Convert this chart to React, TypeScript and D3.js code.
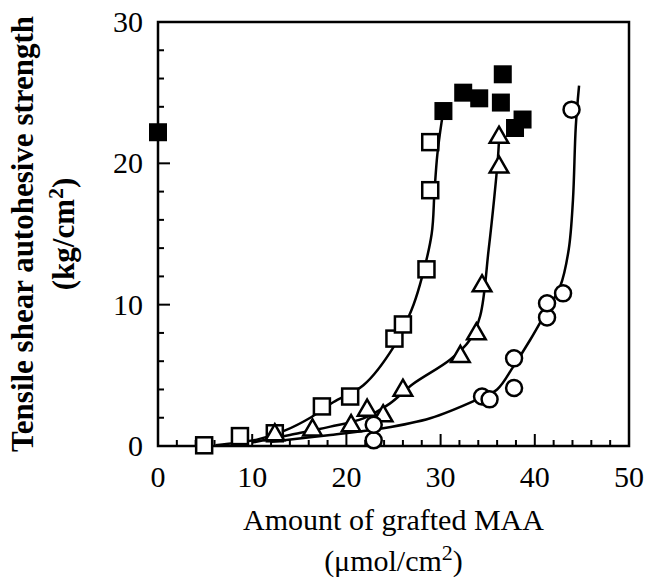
import { useRef, useEffect } from 'react';
import * as d3 from 'd3';

// measured points (x = grafted MAA, y = strength)
const filledSquares: [number, number][] = [
  [0, 22.2], [30.3, 23.7], [32.4, 25.0], [34.1, 24.6], [36.6, 26.3],
  [36.4, 24.3], [37.9, 22.5], [38.7, 23.1],
];
const openSquares: [number, number][] = [
  [4.9, 0.05], [8.7, 0.7], [12.4, 0.9], [17.4, 2.8], [20.4, 3.5],
  [25.1, 7.6], [26.0, 8.6], [28.5, 12.5], [28.9, 18.1], [28.9, 21.5],
];
const triangles: [number, number][] = [
  [12.4, 0.85], [16.4, 1.2], [20.5, 1.5], [22.2, 2.6], [23.9, 2.2],
  [26.0, 4.0], [32.1, 6.4], [33.8, 8.0], [34.4, 11.4], [36.2, 19.8], [36.2, 21.9],
];
const circles: [number, number][] = [
  [22.9, 0.4], [22.9, 1.5], [34.4, 3.5], [35.2, 3.3], [37.8, 4.1],
  [37.8, 6.2], [41.3, 9.1], [41.3, 10.1], [43.0, 10.8], [43.9, 23.8],
];

// fitted curves
const squareFit: [number, number][] = [
  [6.1, 0.05], [10.5, 0.45], [13.5, 1.1], [16.3, 2.05], [18.6, 3.1],
  [21.8, 4.3], [25.0, 7.0], [26.9, 9.6], [27.8, 11.4], [29.05, 15.0],
  [29.35, 18.0], [29.65, 20.6], [30.1, 22.9], [30.3, 23.7],
];
const triangleFit: [number, number][] = [
  [10.0, 0.25], [14.0, 0.78], [18.3, 1.37], [21.8, 1.96], [24.6, 3.0],
  [27.1, 4.4], [31.0, 6.1], [33.1, 7.5], [34.2, 9.2], [35.1, 13.9],
  [35.7, 17.6], [36.1, 20.5], [36.25, 22.4],
];
const circleFit: [number, number][] = [
  [12.0, 0.3], [18.3, 0.78], [23.9, 1.25], [28.9, 1.96], [33.8, 3.26],
  [36.0, 4.0], [37.7, 5.6], [39.5, 7.5], [41.3, 9.6], [42.7, 11.3],
  [43.6, 13.9], [44.05, 17.4], [44.35, 22.6], [44.7, 25.5],
];

const xTicks = [0, 10, 20, 30, 40, 50];
const yTicks = [0, 10, 20, 30];

const W = 647;
const H = 579;
const PLOT = { left: 158, right: 629, top: 22, bottom: 446 };
const FONT = 'Liberation Serif, Times New Roman, serif';

export default function App() {
  const svgRef = useRef<SVGSVGElement>(null);

  useEffect(() => {
    if (!svgRef.current) return;
    const svg = d3.select(svgRef.current);
    svg.selectAll('*').remove();

    const x = d3.scaleLinear().domain([0, 50]).range([PLOT.left, PLOT.right]);
    const y = d3.scaleLinear().domain([0, 30]).range([PLOT.bottom, PLOT.top]);

    const g = svg.append('g');

    // minor + major ticks (inward)
    for (let v = 2; v < 50; v += 2) {
      const major = v % 10 === 0;
      g.append('line')
        .attr('x1', x(v)).attr('x2', x(v))
        .attr('y1', PLOT.bottom).attr('y2', PLOT.bottom - (major ? 12 : 6))
        .attr('stroke', '#000').attr('stroke-width', 2);
    }
    for (let v = 2; v < 30; v += 2) {
      const major = v % 10 === 0;
      g.append('line')
        .attr('x1', PLOT.left).attr('x2', PLOT.left + (major ? 12 : 6))
        .attr('y1', y(v)).attr('y2', y(v))
        .attr('stroke', '#000').attr('stroke-width', 2);
    }

    g.append('rect')
      .attr('x', PLOT.left).attr('y', PLOT.top)
      .attr('width', PLOT.right - PLOT.left).attr('height', PLOT.bottom - PLOT.top)
      .attr('fill', 'none').attr('stroke', '#000').attr('stroke-width', 2.5);

    // tick labels
    g.selectAll('text.xt').data(xTicks).enter().append('text')
      .attr('x', (d) => x(d)).attr('y', 487)
      .attr('text-anchor', 'middle')
      .attr('font-family', FONT).attr('font-size', 30)
      .text((d) => d);
    g.selectAll('text.yt').data(yTicks).enter().append('text')
      .attr('x', 143).attr('y', (d) => y(d) + 10)
      .attr('text-anchor', 'end')
      .attr('font-family', FONT).attr('font-size', 30)
      .text((d) => d);

    // axis titles
    g.append('text')
      .attr('x', (PLOT.left + PLOT.right) / 2).attr('y', 530)
      .attr('text-anchor', 'middle')
      .attr('font-family', FONT).attr('font-size', 30)
      .text('Amount of grafted MAA');
    const xt2 = g.append('text')
      .attr('x', (PLOT.left + PLOT.right) / 2).attr('y', 571)
      .attr('text-anchor', 'middle')
      .attr('font-family', FONT).attr('font-size', 30);
    xt2.append('tspan').text('(\u03bcmol/cm');
    xt2.append('tspan').attr('dy', -11).attr('font-size', 22).text('2');
    xt2.append('tspan').attr('dy', 11).text(')');

    const cy = (PLOT.top + PLOT.bottom) / 2;
    g.append('text')
      .attr('transform', `translate(33,${cy}) rotate(-90)`)
      .attr('text-anchor', 'middle')
      .attr('font-family', FONT).attr('font-size', 31).attr('font-weight', 'bold')
      .text('Tensile shear autohesive strength');
    const yt2 = g.append('text')
      .attr('transform', `translate(74,${cy}) rotate(-90)`)
      .attr('text-anchor', 'middle')
      .attr('font-family', FONT).attr('font-size', 31).attr('font-weight', 'bold');
    yt2.append('tspan').text('(kg/cm');
    yt2.append('tspan').attr('dy', -11).attr('font-size', 22).text('2');
    yt2.append('tspan').attr('dy', 11).text(')');

    // fitted curves
    const line = d3.line<[number, number]>()
      .x((d) => x(d[0])).y((d) => y(d[1]))
      .curve(d3.curveCatmullRom.alpha(0.5));
    [squareFit, triangleFit, circleFit].forEach((pts) => {
      g.append('path').attr('d', line(pts))
        .attr('fill', 'none').attr('stroke', '#000').attr('stroke-width', 2.5);
    });

    // markers
    const s = 16;
    g.selectAll('rect.os').data(openSquares).enter().append('rect')
      .attr('x', (d) => x(d[0]) - s / 2).attr('y', (d) => y(d[1]) - s / 2)
      .attr('width', s).attr('height', s)
      .attr('fill', '#fff').attr('stroke', '#000').attr('stroke-width', 2.5);

    const tri = d3.symbol().type(d3.symbolTriangle).size(150);
    g.selectAll('path.tr').data(triangles).enter().append('path')
      .attr('d', tri() as string)
      .attr('transform', (d) => `translate(${x(d[0])},${y(d[1]) + 1})`)
      .attr('fill', '#fff').attr('stroke', '#000').attr('stroke-width', 2.5);

    g.selectAll('circle.ci').data(circles).enter().append('circle')
      .attr('cx', (d) => x(d[0])).attr('cy', (d) => y(d[1]))
      .attr('r', 8)
      .attr('fill', '#fff').attr('stroke', '#000').attr('stroke-width', 2.5);

    const fs = 18;
    g.selectAll('rect.fs').data(filledSquares).enter().append('rect')
      .attr('x', (d) => x(d[0]) - fs / 2).attr('y', (d) => y(d[1]) - fs / 2)
      .attr('width', fs).attr('height', fs)
      .attr('fill', '#000');
  }, []);

  return (
    <svg ref={svgRef} width={W} height={H}
      style={{ position: 'absolute', left: 0, top: 0, background: '#fff' }} />
  );
}
